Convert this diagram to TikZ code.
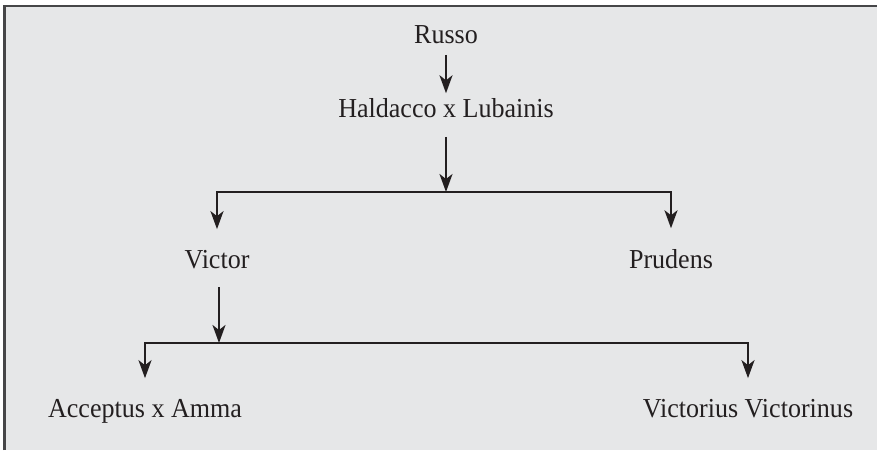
\documentclass[tikz,border=0pt]{standalone}
\usepackage{fontspec}
\setmainfont[FakeStretch=0.95]{Liberation Serif}
\usetikzlibrary{arrows.meta}
\tikzset{>={Stealth[length=1.8mm,width=1.3mm,inset=0.5mm]}}

\begin{document}
\begin{tikzpicture}
      \definecolor{panelgray}{RGB}{230,231,232}
      \definecolor{framegray}{RGB}{70,70,72}
      \definecolor{inkblack}{RGB}{35,31,32}
      \tikzset{
        kin/.style={inner sep=0pt, anchor=base, text=inkblack,
                    font=\fontsize{7.8}{9}\selectfont},
        link/.style={->, draw=inkblack, line width=0.6pt},
        branch/.style={->, draw=inkblack, line width=0.65pt, shorten >=0.2cm}
      }
% Background panel with a frame on the left and top edges
\useasboundingbox (0,0) rectangle (8.77,4.5);
\fill [panelgray] (0.045,0) rectangle (8.77,4.44);
\draw [framegray, line width=0.6pt] (0.045,0) -- (0.045,4.44) -- (8.77,4.44);

% The names of the family tree
\node [kin] (russo) at (4.46,4.06) {Russo};
\node [kin] (hald) at (4.46,3.32) {Haldacco x Lubainis};
\node [kin] (victor) at (2.17,1.82) {Victor};
\node [kin] (prudens) at (6.71,1.82) {Prudens};
\node [kin] (accept) at (1.45,0.33) {Acceptus x Amma};
\node [kin] (victorius) at (7.48,0.33) {Victorius Victorinus};

% Junctions on the two horizontal bars
\coordinate (j1) at (4.46,2.58);
\coordinate (j2) at (2.19,1.07);

% Line of descent
\draw [link, shorten <=0.1cm, shorten >=0.05cm] (russo) -- (hald);
\draw [link, shorten <=0.18cm] (hald) -- (j1);
\draw [branch] (j1) -| (victor);
\draw [branch] (j1) -| (prudens);
\draw [link, shorten <=0.18cm] (victor.south -| j2) -- (j2);
\draw [branch] (j2) -| (accept);
\draw [branch] (j2) -| (victorius);
\end{tikzpicture}
\end{document}
